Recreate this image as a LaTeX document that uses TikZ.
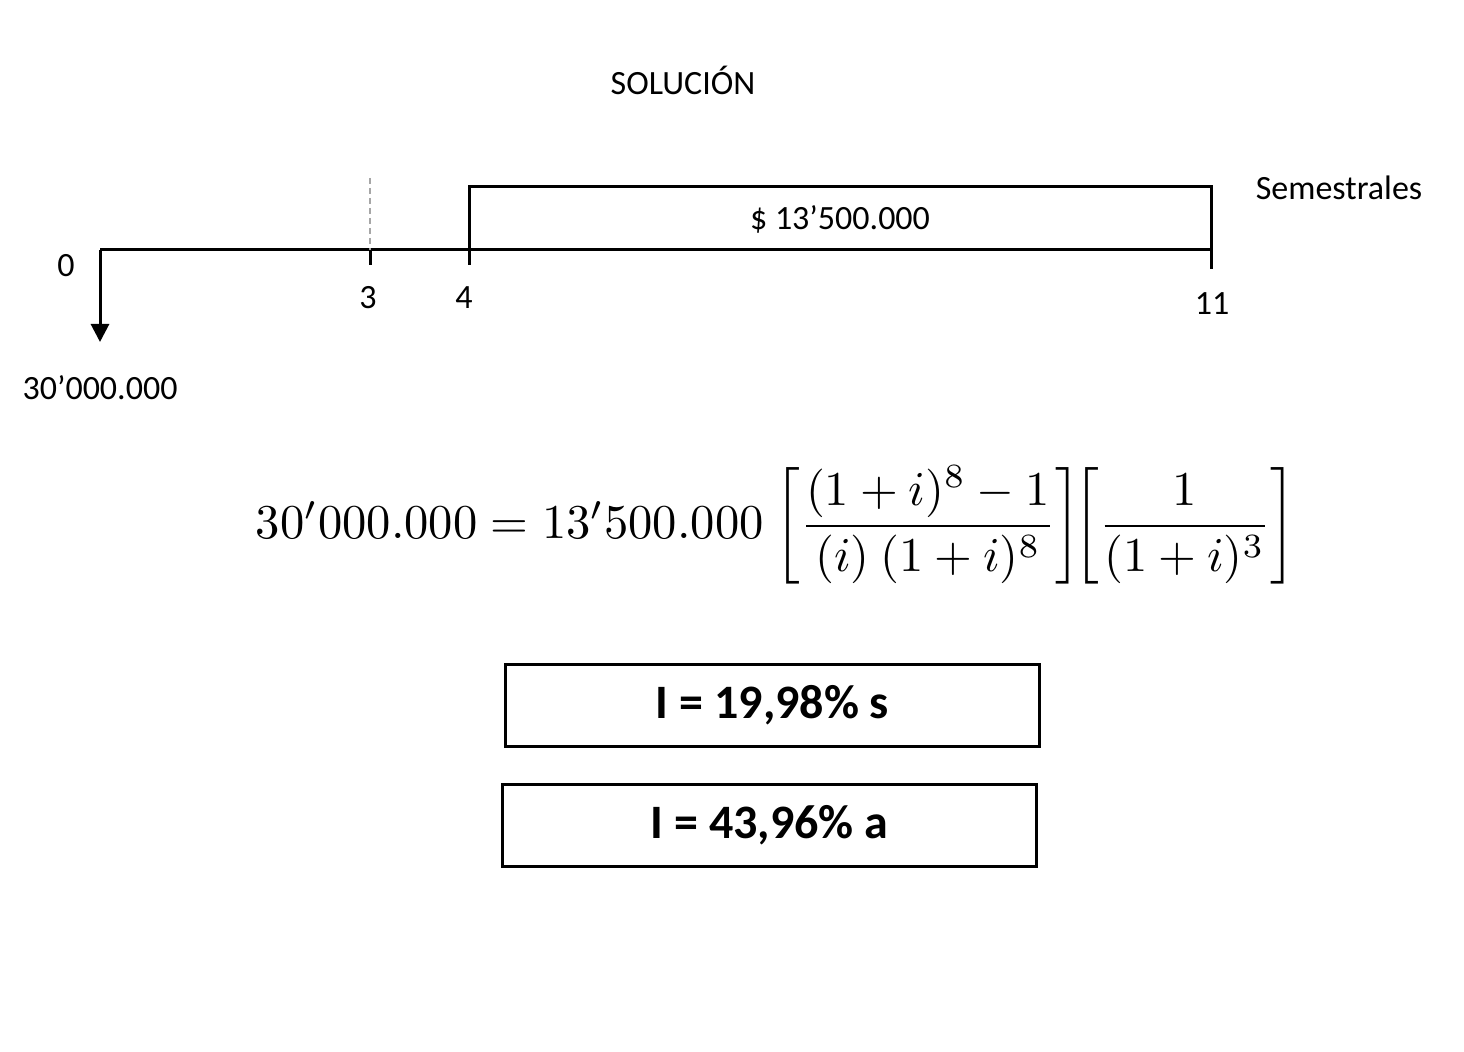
\documentclass[tikz,border=0pt]{standalone}
\usepackage{amsmath}
\usepackage{fontspec}
\setmainfont{Carlito}
\usepackage{graphicx}
\usetikzlibrary{arrows.meta}

\begin{document}
\begin{tikzpicture}[x=0.5pt,y=-0.5pt,
  lbl/.style={font=\fontsize{17}{20}\selectfont, inner sep=0pt},
  axis/.style={line width=1.5pt},
  resbox/.style={draw, line width=1.5pt, minimum width=267pt, minimum height=41pt,
    inner sep=0pt, font=\fontsize{24}{29}\selectfont\bfseries}]
  \useasboundingbox (0,0) rectangle (1464,1052);
  % Title
  \node[lbl] (title) at (683,80) {SOLUCIÓN};
  % Time line
  \coordinate (t0) at (100,250);
  \coordinate (t3) at (370,250);
  \coordinate (t4) at (469,250);
  \coordinate (t11) at (1211,250);
  \coordinate (d3) at (370,178);
  \coordinate (out) at (100,342);
  \draw[axis] (t0) -- (t11);
  \draw[axis,-{Triangle[length=9pt,width=9pt]}] (t0) -- (out);
  \draw[gray!70,line width=0.75pt,dash pattern=on 3pt off 2pt] (d3) -- (t3);
  \draw[axis] (t3) -- ++(0,15);
  \draw[axis] (t4) -- ++(0,15);
  \draw[axis] (t11) -- ++(0,19);
  % Annuity block
  \draw[axis] (t4) |- (1211,187) -- (t11);
  \node[lbl] (n0) at (66,266) {0};
  \node[lbl] (n3) at (368,298) {3};
  \node[lbl] (n4) at (464,298) {4};
  \node[lbl] (n11) at (1212,304) {11};
  \node[lbl] (pv) at (100,388) {30’000.000};
  \node[lbl] (pay) at (840,219) {\$ 13’500.000};
  \node[lbl] (per) at (1339,188) {Semestrales};
  % Equation
  \node (eq) at (776,525) {\resizebox{520pt}{!}{$30'000.000 = 13'500.000\ {\left[\dfrac{(1+i)^8-1}{(i)\ (1+i)^8}\right]}\!{\left[\dfrac{1}{(1+i)^3}\right]}$}};
  % Results
  \node[resbox] (r1) at (772.5,705.5) {I = 19,98\% s};
  \node[resbox] (r2) at (769.5,825.5) {I = 43,96\% a};
\end{tikzpicture}
\end{document}
